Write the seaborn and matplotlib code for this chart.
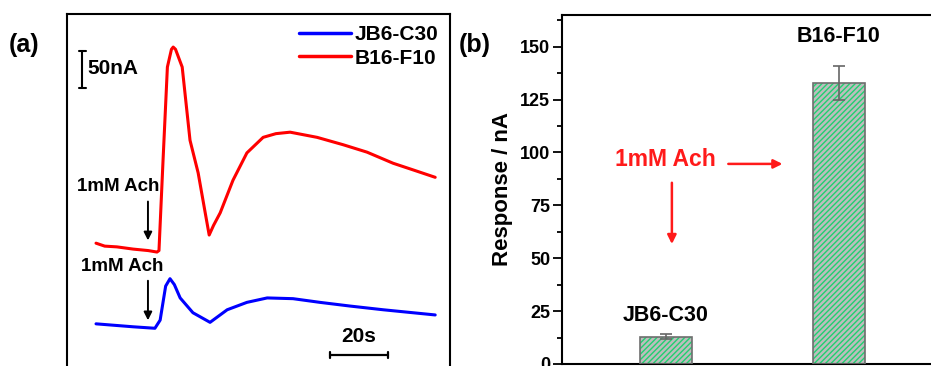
import numpy as np
import pandas as pd
import matplotlib
matplotlib.use("Agg")
import matplotlib.pyplot as plt
from matplotlib.patches import Rectangle
import seaborn as sns

# ---------------- data ----------------
# Panel (a): amperometric traces (time in s, current in nA, arbitrary offset)
red_t = [0, 3, 7.2, 12.8, 18, 21, 21.7, 23.1, 24.6, 26.0, 26.6, 27.4, 29.7, 32.4, 35.2, 37.5, 39,
         40.5, 42.8, 47.2, 52, 57.6, 62, 66.9, 76.2, 85.2, 93.4, 102.4, 109.3, 116.9]
red_i = [166, 162, 161, 158, 156, 154, 156, 278, 404, 428, 431, 428, 404, 305, 261, 210, 177,
         190, 207, 251, 288, 309, 314, 316, 309, 299, 289, 274, 265, 255]
blue_t = [0, 12.8, 20.3, 22.1, 24.0, 25.5, 27.0, 29, 33.4, 39.3, 45.2, 52, 59, 67.9, 77.2,
          87.6, 99, 116.9]
blue_i = [57, 53, 51, 62, 108, 118, 110, 92, 72, 59, 76, 86, 92, 91, 86, 81, 76, 69]
series_names = ["JB6-C30", "B16-F10"]

# Panel (b): response bars
cells = ["JB6-C30", "B16-F10"]
response = [13, 133]
resp_err = [1, 8]
yticks_b = [0, 25, 50, 75, 100, 125, 150]

# ---------------- style ----------------
sns.set_theme(style="white")
plt.rcParams["font.family"] = ["Liberation Sans", "DejaVu Sans"]
plt.rcParams["axes.edgecolor"] = "black"
plt.rcParams["text.color"] = "black"
plt.rcParams["axes.labelcolor"] = "black"
plt.rcParams["ytick.color"] = "black"
plt.rcParams["xtick.color"] = "black"

W, H = 931, 366
fig = plt.figure(figsize=(W / 100, H / 100), dpi=100)

def px_axes(x0, y0, x1, y1):
    return fig.add_axes([x0 / W, 1 - y1 / H, (x1 - x0) / W, (y1 - y0) / H])

# ---------------- panel (a) ----------------
axa = px_axes(67, 14, 450, 376)
df = pd.concat([
    pd.DataFrame({"t": blue_t, "i": blue_i, "cell": series_names[0]}),
    pd.DataFrame({"t": red_t, "i": red_i, "cell": series_names[1]}),
])
sns.lineplot(data=df, x="t", y="i", hue="cell", hue_order=series_names,
             palette=["#0000ff", "#ff0000"], estimator=None, sort=False,
             linewidth=2.2, ax=axa, legend=False)
axa.set_xlim(-10, 122)
axa.set_ylim(-13.5, 475.7)
axa.set_xticks([]); axa.set_yticks([])
axa.set_xlabel(""); axa.set_ylabel("")
for s in axa.spines.values():
    s.set_linewidth(1.5); s.set_color("black")

handles = axa.get_lines()[:2]
leg = axa.legend(handles, series_names, loc="upper right", frameon=False,
                 prop={"size": 15, "weight": "bold"}, handlelength=2.5,
                 handletextpad=0.2, labelspacing=0.2, borderaxespad=0.15)
for h in leg.legend_handles:
    h.set_linewidth(2.5)

# scale bars
axa.plot([-4.8, -4.8], [375.7, 425.7], color="black", lw=1.5)
axa.plot([-6.0, -3.6], [425.7, 425.7], color="black", lw=1.5)
axa.plot([-6.0, -3.6], [375.7, 375.7], color="black", lw=1.5)
axa.text(-2.8, 402, "50nA", fontsize=15, fontweight="bold", va="center", ha="left")
axa.plot([80.7, 100.7], [14.9, 14.9], color="black", lw=1.6)
axa.plot([80.7, 80.7], [11, 18.8], color="black", lw=1.6)
axa.plot([100.7, 100.7], [11, 18.8], color="black", lw=1.6)
axa.text(90.7, 40, "20s", fontsize=15, fontweight="bold", va="center", ha="center")

# stimulus annotations
axa.text(7.6, 242, "1mM Ach", fontsize=13.5, fontweight="bold", va="center", ha="center")
axa.annotate("", xy=(17.9, 166), xytext=(17.9, 226),
             arrowprops=dict(arrowstyle="-|>", color="black", lw=1.4, mutation_scale=12))
axa.text(9.0, 135, "1mM Ach", fontsize=13.5, fontweight="bold", va="center", ha="center")
axa.annotate("", xy=(17.9, 58), xytext=(17.9, 119),
             arrowprops=dict(arrowstyle="-|>", color="black", lw=1.4, mutation_scale=12))

fig.text(9 / W, 1 - 45 / H, "(a)", fontsize=18, fontweight="bold", va="center", ha="left")

# ---------------- panel (b) ----------------
axb = px_axes(562, 15, 960, 364)
dfb = pd.DataFrame({"cell": cells, "resp": response})
sns.barplot(data=dfb, x="cell", y="resp", order=cells, color="#bdbdbd",
            width=0.3, ax=axb, errorbar=None, saturation=1)
plt.rcParams["hatch.linewidth"] = 1.6
for p in list(axb.patches):
    p.set_hatch("//////")
    p.set_edgecolor("#1fd070")
    p.set_linewidth(0)
    axb.add_patch(Rectangle(p.get_xy(), p.get_width(), p.get_height(),
                            fill=False, edgecolor="#6e6e6e", lw=1.2, zorder=3))
axb.errorbar(range(len(cells)), response, yerr=resp_err, fmt="none",
             ecolor="#666666", elinewidth=1.2, capsize=4, capthick=1.2, zorder=4)
axb.set_xlim(-0.6, 1.7)
axb.set_ylim(0, 165)
axb.set_yticks(yticks_b)
axb.set_yticks(np.arange(12.5, 165, 25), minor=True)
axb.set_xticks([])
axb.set_xlabel("")
axb.set_ylabel("Response / nA", fontsize=16, fontweight="bold", labelpad=5)
axb.tick_params(axis="y", which="major", direction="out", length=6.5, width=1.3,
                labelsize=13, left=True, pad=2)
axb.tick_params(axis="y", which="minor", direction="out", length=3.5, width=1.3, left=True)
for lab in axb.get_yticklabels():
    lab.set_fontweight("bold")
for s in axb.spines.values():
    s.set_linewidth(1.5); s.set_color("black")

for i, (c, v, e) in enumerate(zip(cells, response, resp_err)):
    axb.text(i, v + e + 9 if i == 0 else v + e + 14, c, fontsize=15.5,
             fontweight="bold", ha="center", va="center")

axb.text(0.0, 96.5, "1mM Ach", color="#ff1a1a", fontsize=16.5, fontweight="bold",
         ha="center", va="center")
axb.annotate("", xy=(0.69, 94.6), xytext=(0.345, 94.6),
             arrowprops=dict(arrowstyle="-|>", color="#ff1a1a", lw=1.8, mutation_scale=13))
axb.annotate("", xy=(0.035, 55.4), xytext=(0.035, 87),
             arrowprops=dict(arrowstyle="-|>", color="#ff1a1a", lw=1.8, mutation_scale=13))

fig.text(459 / W, 1 - 45 / H, "(b)", fontsize=18, fontweight="bold", va="center", ha="left")

fig.savefig("out.png", dpi=100)
